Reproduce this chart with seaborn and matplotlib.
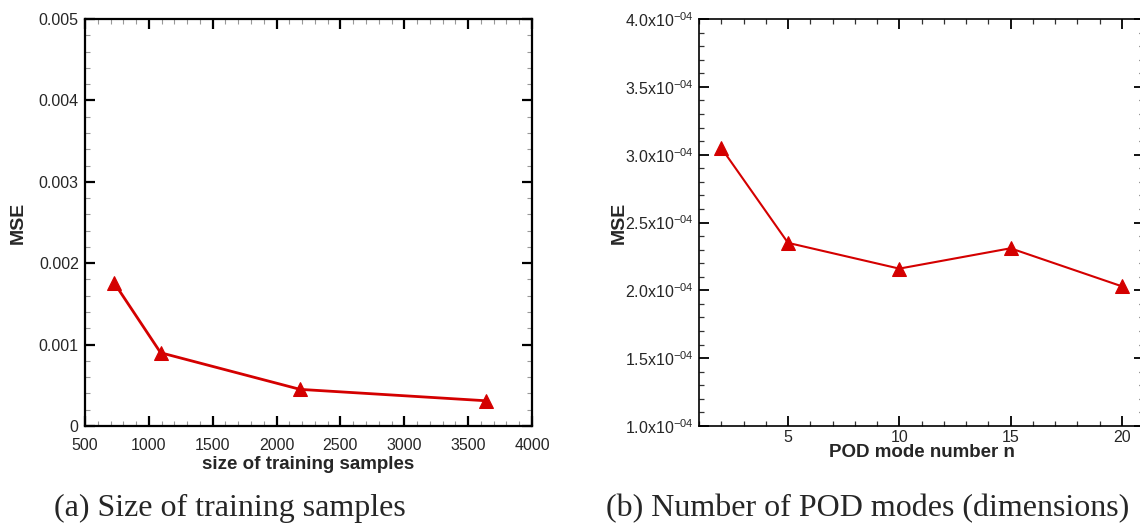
import matplotlib
matplotlib.use("Agg")
import matplotlib.pyplot as plt
from matplotlib.ticker import MultipleLocator, FuncFormatter
import seaborn as sns
import pandas as pd

# MSE versus number of training samples
train_sizes = [728, 1092, 2184, 3640]
train_mse = [0.00176, 0.00090, 0.00045, 0.00031]

# MSE versus number of retained POD modes
pod_modes = [2, 5, 10, 15, 20]
pod_mse = [3.05e-4, 2.35e-4, 2.16e-4, 2.31e-4, 2.03e-4]

captions = ["(a) Size of training samples", "(b) Number of POD modes (dimensions)"]

sns.set_style("ticks")
plt.rcParams["font.family"] = ["Liberation Sans", "DejaVu Sans"]
plt.rcParams["mathtext.fontset"] = "custom"
plt.rcParams["mathtext.rm"] = "Liberation Sans"

RED = "#d40000"

fig = plt.figure(figsize=(11.4, 5.26), dpi=100)
fig.patch.set_facecolor("white")

ax1 = fig.add_axes([85 / 1140, 1 - 426 / 526, (532 - 85) / 1140, (426 - 19) / 526])
ax2 = fig.add_axes([699 / 1140, 1 - 426 / 526, (1144 - 699) / 1140, (426 - 19) / 526])

df1 = pd.DataFrame({"size": train_sizes, "mse": train_mse})
df2 = pd.DataFrame({"modes": pod_modes, "mse": pod_mse})

sns.lineplot(data=df1, x="size", y="mse", ax=ax1, color=RED, linewidth=2.0,
             marker="^", markersize=10, markeredgecolor=RED, markerfacecolor=RED)
sns.lineplot(data=df2, x="modes", y="mse", ax=ax2, color=RED, linewidth=1.5,
             marker="^", markersize=10, markeredgecolor=RED, markerfacecolor=RED)

# Panel (a) axes
ax1.set_xlim(500, 4000)
ax1.set_ylim(0, 0.005)
ax1.xaxis.set_major_locator(MultipleLocator(500))
ax1.xaxis.set_minor_locator(MultipleLocator(100))
ax1.yaxis.set_major_locator(MultipleLocator(0.001))
ax1.yaxis.set_minor_locator(MultipleLocator(0.0002))
ax1.yaxis.set_major_formatter(FuncFormatter(lambda v, p: "0" if abs(v) < 1e-12 else f"{v:.3f}"))
for s in ax1.spines.values():
    s.set_linewidth(1.6)
    s.set_color("black")
ax1.tick_params(which="major", direction="in", length=7, width=1.6,
                top=True, right=True, labelsize=11.5, color="black")
ax1.tick_params(which="minor", direction="in", length=3.5, width=0.8,
                top=True, right=True, color="#999999")
ax1.tick_params(axis="x", which="major", pad=8.5)
ax1.tick_params(axis="y", which="major", pad=4.5)
ax1.set_xlabel("size of training samples", fontsize=13.5, fontweight="bold", labelpad=2)
ax1.set_ylabel("MSE", fontsize=14, fontweight="bold")
ax1.yaxis.set_label_coords(-0.13, 0.5)

# Panel (b) axes
ax2.set_xlim(1, 21)
ax2.set_ylim(1.0e-4, 4.0e-4)
ax2.xaxis.set_major_locator(MultipleLocator(5))
ax2.xaxis.set_minor_locator(MultipleLocator(1))
ax2.yaxis.set_major_locator(MultipleLocator(0.5e-4))
ax2.yaxis.set_minor_locator(MultipleLocator(0.1e-4))
ax2.yaxis.set_major_formatter(
    FuncFormatter(lambda v, p: r"$\mathregular{%.1fx10^{-04}}$" % (v * 1e4)))
for s in ax2.spines.values():
    s.set_linewidth(1.2)
    s.set_color("black")
ax2.tick_params(which="major", direction="in", length=7, width=1.3,
                top=True, right=True, labelsize=11.5, color="black")
ax2.tick_params(which="minor", direction="in", length=3.5, width=0.9,
                top=True, right=True, color="#333333")
ax2.tick_params(axis="x", which="major", pad=3)
ax2.tick_params(axis="y", which="major", pad=3.5)
ax2.set_xlabel("POD mode number n", fontsize=13.5, fontweight="bold", labelpad=-1)
ax2.set_ylabel("MSE", fontsize=14, fontweight="bold")
ax2.yaxis.set_label_coords(-0.16, 0.5)

# Subfigure captions
fig.text(230 / 1140, 1 - 516 / 526, captions[0], ha="center", va="baseline",
         fontsize=23, family=["Liberation Serif", "DejaVu Serif"])
fig.text(868 / 1140, 1 - 516 / 526, captions[1], ha="center", va="baseline",
         fontsize=23, family=["Liberation Serif", "DejaVu Serif"])

fig.savefig("out.png", dpi=100, facecolor="white")
